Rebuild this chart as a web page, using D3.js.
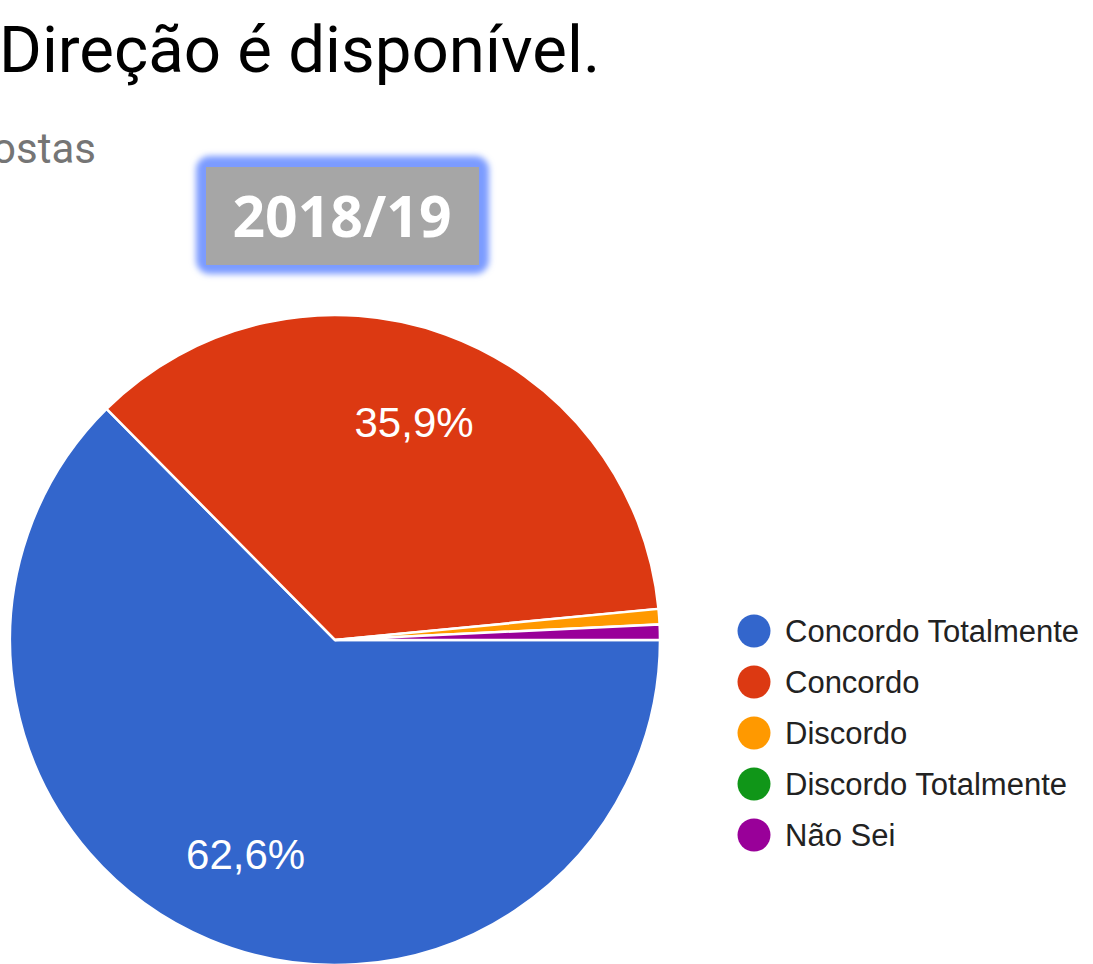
<!DOCTYPE html>
<html>
<head>
<meta charset="utf-8">
<script src="https://cdn.jsdelivr.net/npm/d3@7"></script>
<style>
  html, body { margin: 0; padding: 0; background: #fff; overflow: hidden; }
  svg { display: block; }
</style>
</head>
<body>
<svg id="chart" width="1093" height="964"></svg>
<script>
  // answers (counts of responses, 131 total)
  const categories = ['Concordo Totalmente', 'Concordo', 'Discordo', 'Discordo Totalmente', 'Não Sei'];
  const counts = [82, 47, 1, 0, 1];
  const colors = ['#3366cc', '#dc3912', '#ff9900', '#109618', '#990099'];
  const chartTitle = 'Direção é disponível.';
  const subtitle = '131 respostas';
  const yearLabel = '2018/19';

  const svg = d3.select('#chart');
  const cx = 335, cy = 640, radius = 325, labelRadius = 232;

  // title + subtitle (subtitle is cropped at left in the original)
  svg.append('text')
    .attr('x', -1).attr('y', 72)
    .attr('font-family', 'Roboto, sans-serif')
    .attr('font-size', 65.4)
    .attr('fill', '#000')
    .text(chartTitle);

  svg.append('text')
    .attr('x', 96).attr('y', 163)
    .attr('text-anchor', 'end')
    .attr('font-family', 'Roboto, sans-serif')
    .attr('font-size', 42)
    .attr('fill', '#757575')
    .text(subtitle);

  // year badge with blue glow
  const defs = svg.append('defs');
  defs.append('filter').attr('id', 'glow')
    .attr('x', '-20%').attr('y', '-30%').attr('width', '140%').attr('height', '160%')
    .append('feGaussianBlur').attr('stdDeviation', 3);

  svg.append('rect')
    .attr('x', 196).attr('y', 156).attr('width', 293).attr('height', 118)
    .attr('rx', 14)
    .attr('fill', '#7b9bff')
    .attr('filter', 'url(#glow)');
  svg.append('rect')
    .attr('x', 206).attr('y', 167).attr('width', 273).attr('height', 98)
    .attr('fill', '#a6a6a6');
  svg.append('text')
    .attr('x', 342).attr('y', 237)
    .attr('text-anchor', 'middle')
    .attr('font-family', '"Open Sans", sans-serif')
    .attr('font-weight', 'bold')
    .attr('font-size', 57)
    .attr('fill', '#fff')
    .text(yearLabel);

  // pie
  const data = categories.map((c, i) => ({name: c, value: counts[i], color: colors[i]}));
  const total = d3.sum(counts);

  const pie = d3.pie()
    .value((d) => d.value)
    .sort(null)
    .startAngle(Math.PI / 2)
    .endAngle(Math.PI / 2 + 2 * Math.PI);

  const arc = d3.arc().innerRadius(0).outerRadius(radius);
  const labelArc = d3.arc().innerRadius(labelRadius).outerRadius(labelRadius);

  const g = svg.append('g')
    .attr('transform', 'translate(' + cx + ',' + cy + ')');

  const arcs = pie(data).filter((d) => d.value > 0);

  g.selectAll('path')
    .data(arcs)
    .enter().append('path')
    .attr('d', arc)
    .attr('fill', (d) => d.data.color)
    .attr('stroke', '#fff')
    .attr('stroke-width', 2.5);

  const fmt = (v) => (v / total * 100).toFixed(1).replace('.', ',') + '%';

  g.selectAll('text.lbl')
    .data(arcs.filter((d) => d.value / total > 0.05))
    .enter().append('text')
    .attr('class', 'lbl')
    .attr('transform', (d) => 'translate(' + labelArc.centroid(d) + ')')
    .attr('text-anchor', 'middle')
    .attr('dy', '0.36em')
    .attr('font-family', '"Liberation Sans", Arial, sans-serif')
    .attr('font-size', 42)
    .attr('fill', '#fff')
    .text((d) => fmt(d.value));

  // legend
  const legend = svg.append('g')
    .selectAll('g')
    .data(data)
    .enter().append('g')
    .attr('transform', (d, i) => 'translate(754,' + (631 + i * 51) + ')');

  legend.append('circle')
    .attr('r', 16.5)
    .attr('fill', (d) => d.color);

  legend.append('text')
    .attr('x', 31)
    .attr('dy', '0.36em')
    .attr('font-family', '"Liberation Sans", Arial, sans-serif')
    .attr('font-size', 31)
    .attr('fill', '#222')
    .text((d) => d.name);
</script>
</body>
</html>
